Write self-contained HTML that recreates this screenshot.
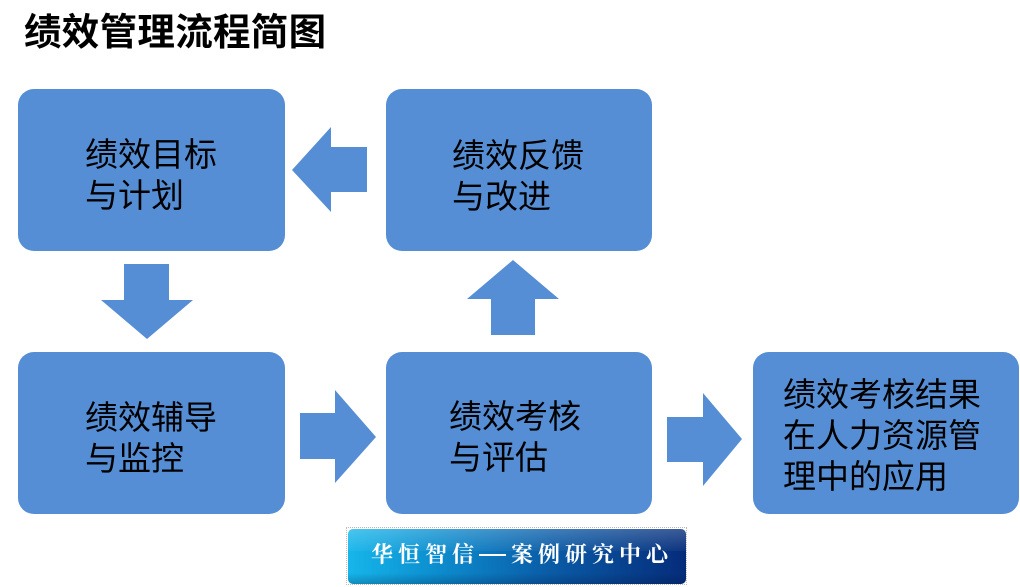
<!DOCTYPE html>
<html>
<head>
<meta charset="utf-8">
<style>
  html,body{margin:0;padding:0;background:#fff;}
  body{width:1020px;height:587px;position:relative;overflow:hidden;}
  .box{position:absolute;background:#558ed5;border-radius:16px;}
  .t{position:absolute;font-family:"Liberation Sans","Noto Sans CJK SC",sans-serif;font-size:33px;line-height:41px;color:#000;white-space:nowrap;}
  .title{position:absolute;left:24px;top:14px;font-family:"Liberation Sans","Noto Sans CJK SC",sans-serif;font-size:37.5px;line-height:37px;font-weight:bold;color:#000;white-space:nowrap;letter-spacing:0.3px;}
  .bannerout{position:absolute;left:346px;top:527px;width:339px;height:56px;border:1px dotted #bbb;}
  .banner{position:absolute;left:348px;top:529px;width:338px;height:55px;border-radius:5px;
    background:linear-gradient(90deg,#16b6ea 0%,#0c8fd0 25%,#0a5ba6 60%,#052c7a 100%);overflow:hidden;}
  .banner:before{content:"";position:absolute;left:0;top:0;right:0;height:40%;
    background:linear-gradient(180deg,rgba(255,255,255,0.22),rgba(255,255,255,0.04));}
  .banner:after{content:"";position:absolute;left:0;bottom:0;right:0;height:20%;
    background:linear-gradient(180deg,rgba(0,0,0,0),rgba(0,20,60,0.25));}
  .btext{position:absolute;left:371px;top:543px;font-family:"Noto Serif CJK SC","WenQuanYi Zen Hei",serif;font-size:22px;line-height:22px;letter-spacing:5px;color:#fff;white-space:nowrap;font-weight:bold;}
  .dash{display:inline-block;width:27px;height:2px;background:#fff;vertical-align:middle;margin-right:5px;position:relative;top:-1px;}
</style>
</head>
<body>
<div class="title">绩效管理流程简图</div>

<div class="box" style="left:18px;top:89px;width:267px;height:162px;"></div>
<div class="box" style="left:386px;top:89px;width:266px;height:162px;"></div>
<div class="box" style="left:18px;top:352px;width:267px;height:162px;"></div>
<div class="box" style="left:386px;top:352px;width:266px;height:162px;"></div>
<div class="box" style="left:753px;top:352px;width:266px;height:162px;"></div>

<svg style="position:absolute;left:0;top:0" width="1020" height="587">
  <g fill="#558ed5">
    <polygon points="292,170 331,127 331,147 367,147 367,192 331,192 331,212"/>
    <polygon points="124,264 169,264 169,300 193,300 147,339 101,300 124,300"/>
    <polygon points="300,413 335,413 335,390 376,437 335,483 335,459 300,459"/>
    <polygon points="513,260 559,299 535,299 535,335 491,335 491,299 467,299"/>
    <polygon points="667,417 703,417 703,393 742,439 703,486 703,462 667,462"/>
  </g>
</svg>

<div class="t" style="left:85px;top:134px;">绩效目标<br>与计划</div>
<div class="t" style="left:452px;top:135px;">绩效反馈<br>与改进</div>
<div class="t" style="left:85px;top:397px;">绩效辅导<br>与监控</div>
<div class="t" style="left:449px;top:396px;">绩效考核<br>与评估</div>
<div class="t" style="left:783px;top:374px;">绩效考核结果<br>在人力资源管<br>理中的应用</div>

<div class="bannerout"></div>
<div class="banner"></div>
<div class="btext">华恒智信<span class="dash"></span>案例研究中心</div>
</body>
</html>
